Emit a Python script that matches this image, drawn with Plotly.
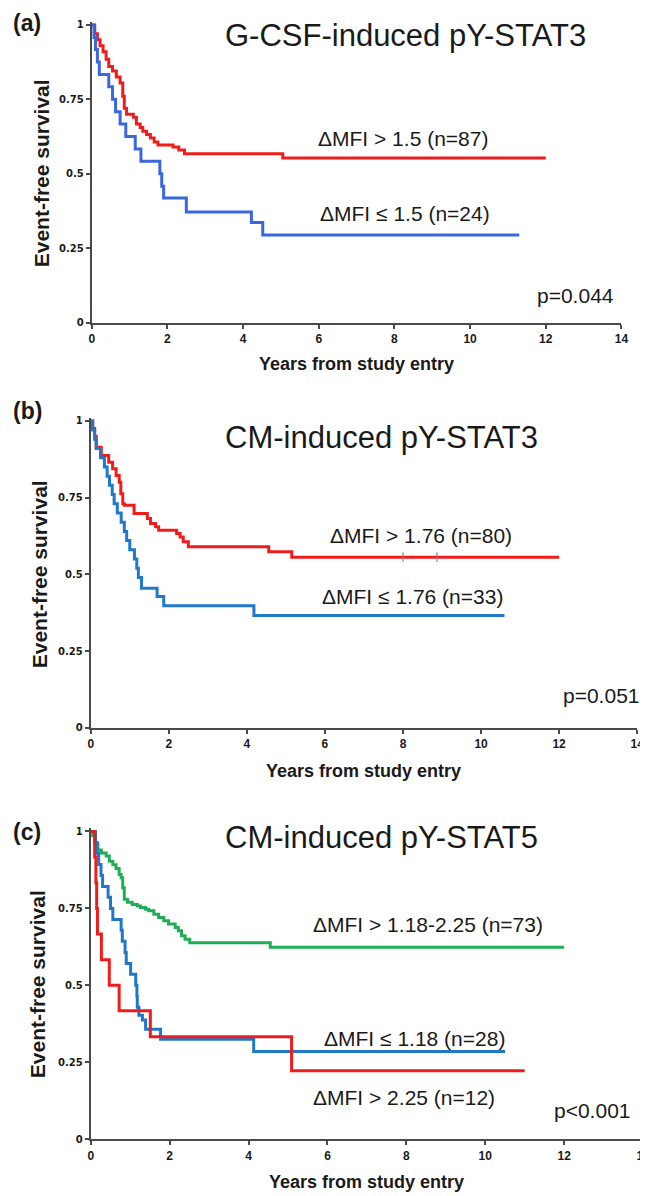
import plotly.graph_objects as go

# ---------------- data ----------------
x_ticks = [0, 2, 4, 6, 8, 10, 12, 14]
y_ticks = [0, 0.25, 0.5, 0.75, 1]
y_tick_text = ["0", "0.25", "0.5", "0.75", "1"]

# (a) G-CSF-induced pY-STAT3
a_red_t = [0, 0.08, 0.15, 0.22, 0.3, 0.38, 0.45, 0.55, 0.65, 0.75, 0.82, 0.86, 0.92, 1.1, 1.18,
           1.28, 1.35, 1.45, 1.55, 1.65, 1.75, 2.15, 2.3, 2.45, 5.05, 12.0]
a_red_s = [1.0, 0.97, 0.95, 0.93, 0.91, 0.885, 0.86, 0.845, 0.825, 0.805, 0.76, 0.72, 0.70, 0.69, 0.667,
           0.655, 0.643, 0.632, 0.62, 0.607, 0.597, 0.59, 0.58, 0.567, 0.553, 0.553]
a_blue_t = [0, 0.06, 0.1, 0.15, 0.2, 0.45, 0.55, 0.63, 0.75, 0.9, 1.15, 1.3, 1.8, 1.85, 1.9, 2.5, 4.22, 4.52, 11.3]
a_blue_s = [1.0, 0.958, 0.917, 0.875, 0.833, 0.792, 0.75, 0.708, 0.667, 0.625, 0.583, 0.542, 0.5, 0.458,
            0.419, 0.372, 0.336, 0.294, 0.294]

# (b) CM-induced pY-STAT3
b_red_t = [0, 0.05, 0.1, 0.14, 0.27, 0.46, 0.56, 0.65, 0.73, 0.77, 0.82, 0.86, 1.11, 1.45, 1.53, 1.66,
           1.74, 2.2, 2.29, 2.37, 2.5, 4.56, 5.15, 12.0]
b_red_s = [1.0, 0.975, 0.95, 0.914, 0.887, 0.865, 0.844, 0.822, 0.80, 0.763, 0.73, 0.725, 0.698, 0.682,
           0.666, 0.655, 0.644, 0.633, 0.622, 0.606, 0.59, 0.574, 0.556, 0.556]
b_red_censor_t = [8.0, 8.87]
b_red_censor_s = [0.556, 0.556]
b_blue_t = [0, 0.05, 0.1, 0.14, 0.25, 0.35, 0.42, 0.48, 0.55, 0.6, 0.68, 0.78, 0.86, 0.92, 1.0, 1.12,
            1.18, 1.22, 1.3, 1.7, 1.87, 4.18, 10.6]
b_blue_s = [1.0, 0.97, 0.94, 0.91, 0.88, 0.85, 0.82, 0.79, 0.76, 0.73, 0.70, 0.67, 0.64, 0.61, 0.58, 0.55,
            0.52, 0.49, 0.455, 0.428, 0.398, 0.366, 0.366]

# (c) CM-induced pY-STAT5
c_green_t = [0, 0.05, 0.1, 0.18, 0.27, 0.39, 0.47, 0.56, 0.64, 0.72, 0.77, 0.81, 0.85, 0.93, 1.05, 1.18,
             1.26, 1.39, 1.47, 1.6, 1.72, 1.85, 1.97, 2.14, 2.22, 2.3, 2.39, 2.51, 4.55, 12.0]
c_green_s = [1.0, 0.986, 0.96, 0.94, 0.93, 0.92, 0.903, 0.892, 0.88, 0.86, 0.85, 0.817, 0.78, 0.77, 0.763,
             0.758, 0.753, 0.747, 0.742, 0.731, 0.72, 0.71, 0.699, 0.688, 0.677, 0.661, 0.65, 0.638, 0.624, 0.624]
c_blue_t = [0, 0.12, 0.16, 0.2, 0.26, 0.3, 0.44, 0.5, 0.56, 0.77, 0.8, 0.87, 0.9, 1.01, 1.14, 1.17, 1.18,
            1.22, 1.31, 1.39, 1.77, 4.13, 10.5]
c_blue_s = [1.0, 0.964, 0.929, 0.893, 0.857, 0.821, 0.786, 0.75, 0.714, 0.679, 0.643, 0.607, 0.571, 0.536,
            0.5, 0.464, 0.429, 0.403, 0.387, 0.357, 0.325, 0.285, 0.285]
c_red_t = [0, 0.1, 0.13, 0.15, 0.17, 0.27, 0.47, 0.72, 1.51, 5.09, 11.0]
c_red_s = [1.0, 0.917, 0.833, 0.75, 0.667, 0.583, 0.5, 0.417, 0.333, 0.222, 0.222]

panel_letters = ["(a)", "(b)", "(c)"]
panel_titles = ["G-CSF-induced pY-STAT3", "CM-induced pY-STAT3", "CM-induced pY-STAT5"]
x_title = "Years from study entry"
y_title = "Event-free survival"

# ---------------- layout helpers ----------------
W, H = 648, 1196
def fx(p):
    return p / W
def fy(p):
    return 1 - p / H

YMAX = 1.01
# pixel geometry of each panel: x of 0, x of 14, y of 0, y of 1
geom = [
    dict(x0=82, x1=620, y0=314, y1=14),
    dict(x0=81, x1=636, y0=722.3, y1=413),
    dict(x0=81, x1=642, y0=1136.7, y1=826.7),
]

RED = "#f01c1c"
BLUE_A = "#3a66e0"
BLUE = "#1f78c8"
GREEN = "#1fae55"
AXC = "#4a4a4a"
TXT = "#1a1a1a"

fig = go.Figure()

def add_line(t, s, color, idx):
    sfx = "" if idx == 0 else str(idx + 1)
    fig.add_trace(go.Scatter(x=t, y=s, mode="lines", line=dict(color=color, width=3, shape="hv"),
                             xaxis="x" + sfx, yaxis="y" + sfx, showlegend=False, hoverinfo="skip"))

add_line(a_red_t, a_red_s, RED, 0)
add_line(a_blue_t, a_blue_s, BLUE_A, 0)
add_line(b_red_t, b_red_s, RED, 1)
add_line(b_blue_t, b_blue_s, BLUE, 1)
fig.add_trace(go.Scatter(x=b_red_censor_t, y=b_red_censor_s, mode="markers",
                         marker=dict(symbol="line-ns", size=7, line=dict(color="#888888", width=1.2)),
                         xaxis="x2", yaxis="y2", showlegend=False, hoverinfo="skip"))
add_line(c_green_t, c_green_s, GREEN, 2)
add_line(c_blue_t, c_blue_s, BLUE, 2)
add_line(c_red_t, c_red_s, RED, 2)

layout = dict(width=W, height=H, margin=dict(l=0, r=0, t=0, b=0),
              paper_bgcolor="white", plot_bgcolor="white", showlegend=False)

for i, g in enumerate(geom):
    sfx = "" if i == 0 else str(i + 1)
    top = g["y0"] - (g["y0"] - g["y1"]) * YMAX
    layout["xaxis" + sfx] = dict(
        domain=[fx(g["x0"]), fx(g["x1"])], range=[0, 14], tickvals=x_ticks,
        anchor="y" + sfx, showgrid=False, zeroline=False, showline=True,
        linecolor=AXC, linewidth=2, ticks="outside", ticklen=4, tickwidth=2, tickcolor=AXC,
        tickfont=dict(family="Liberation Sans", size=12, color=TXT, weight="bold"))
    layout["yaxis" + sfx] = dict(
        domain=[fy(g["y0"]), fy(top)], range=[0, YMAX], tickvals=y_ticks, ticktext=y_tick_text,
        anchor="x" + sfx, showgrid=False, zeroline=False, showline=True,
        linecolor=AXC, linewidth=2, ticks="outside", ticklen=4, tickwidth=2, tickcolor=AXC,
        tickfont=dict(family="DejaVu Sans", size=10, color=TXT, weight="bold"))

fig.update_layout(**layout)

def ann(text, x, y, size, bold=False, xanchor="left", family="Liberation Sans", angle=0):
    fig.add_annotation(text=text, x=fx(x), y=fy(y), xref="paper", yref="paper",
                       xanchor=xanchor, yanchor="middle", showarrow=False, textangle=angle,
                       font=dict(family=family, size=size, color=TXT, weight="bold" if bold else "normal"))

# panel letters and titles
letter_y = [12, 403, 827]
title_y = [25, 430, 833]
for i in range(3):
    ann(panel_letters[i], 0, letter_y[i], 23, bold=True)
    ann(panel_titles[i], 215, title_y[i], 31)

# axis titles
xt_pos = [(351, 356), (358.5, 766), (361.5, 1180)]
yt_pos = [(31, 164), (29, 568), (27, 981)]
for i in range(3):
    ann(x_title, xt_pos[i][0], xt_pos[i][1], 18, bold=True, xanchor="center")
    ann(y_title, yt_pos[i][0], yt_pos[i][1], 21, bold=True, xanchor="center", angle=-90)

# curve labels and p-values
ann("ΔMFI > 1.5 (n=87)", 310, 128, 21)
ann("ΔMFI ≤ 1.5 (n=24)", 312, 204, 21)
ann("p=0.044", 532, 287, 21)

ann("ΔMFI > 1.76 (n=80)", 322, 528, 21)
ann("ΔMFI ≤ 1.76 (n=33)", 314, 590, 21)
ann("p=0.051", 559, 690, 21)

ann("ΔMFI > 1.18-2.25 (n=73)", 305, 920, 21)
ann("ΔMFI ≤ 1.18 (n=28)", 316, 1035, 21)
ann("ΔMFI > 2.25 (n=12)", 305, 1095, 21)
ann("p&lt;0.001", 549, 1108, 21)

fig.write_html("out.html")
